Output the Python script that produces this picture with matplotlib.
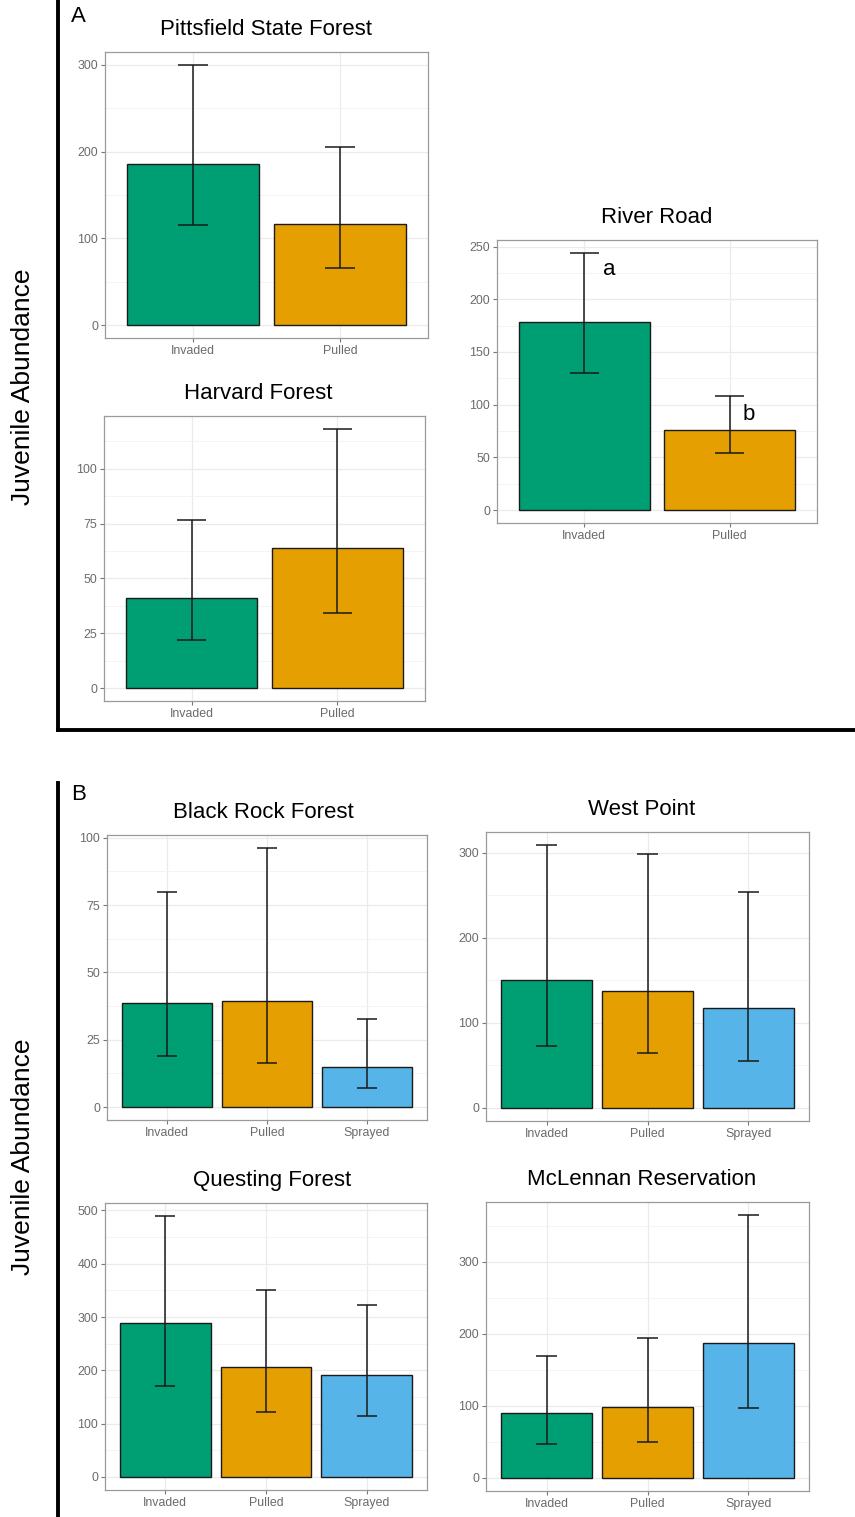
import matplotlib
matplotlib.use("Agg")
import matplotlib.pyplot as plt
from matplotlib.ticker import MultipleLocator
from matplotlib.lines import Line2D

plt.rcParams['font.family'] = ['Liberation Sans', 'DejaVu Sans']

# Treatment colours (Okabe-Ito)
COLORS = {"Invaded": "#009E73", "Pulled": "#E69F00", "Sprayed": "#56B4E9"}

# ---- data: mean, lower and upper error bar ----
two_groups = ["Invaded", "Pulled"]
three_groups = ["Invaded", "Pulled", "Sprayed"]

pittsfield_mean = [186, 116]
pittsfield_lo = [115, 66]
pittsfield_hi = [300, 205]

riverroad_mean = [178, 76]
riverroad_lo = [130, 54]
riverroad_hi = [244, 108]
riverroad_letters = ["a", "b"]

harvard_mean = [41, 63.7]
harvard_lo = [21.8, 34.3]
harvard_hi = [76.8, 118.2]

blackrock_mean = [38.7, 39.2, 14.9]
blackrock_lo = [18.8, 16.3, 7.0]
blackrock_hi = [80, 96.2, 32.6]

westpoint_mean = [150.5, 138, 118]
westpoint_lo = [73, 64, 55.5]
westpoint_hi = [309, 299, 254]

questing_mean = [288.5, 206.5, 191]
questing_lo = [170, 122.5, 113.5]
questing_hi = [489.5, 350.5, 323]

mclennan_mean = [89.5, 98.5, 187.5]
mclennan_lo = [47.5, 50, 96.5]
mclennan_hi = [169.5, 194.5, 365]

W, H = 855, 1517
fig = plt.figure(figsize=(W / 100, H / 100), dpi=100)


def add_axes_px(x0, y0, x1, y1):
    """ axes from pixel box (top-left origin) """
    return fig.add_axes([x0 / W, 1 - y1 / H, (x1 - x0) / W, (y1 - y0) / H])


def bar_panel(ax, title, groups, mean, lo, hi, step, title_dx=0):
    x = list(range(1, len(groups) + 1))
    ax.bar(x, mean, width=0.9, color=[COLORS[g] for g in groups],
           edgecolor="#1a1a1a", linewidth=1.0, zorder=3)
    yerr = [[m - l for m, l in zip(mean, lo)], [h - m for m, h in zip(mean, hi)]]
    ax.errorbar(x, mean, yerr=yerr, fmt="none", ecolor="#1a1a1a",
                elinewidth=1.1, capsize=0, zorder=4)
    # ggplot style caps of width 0.2
    ax.hlines(lo, [i - 0.1 for i in x], [i + 0.1 for i in x], color="#1a1a1a", lw=1.1, zorder=4)
    ax.hlines(hi, [i - 0.1 for i in x], [i + 0.1 for i in x], color="#1a1a1a", lw=1.1, zorder=4)

    top = max(hi)
    ax.set_ylim(-0.05 * top, 1.05 * top)
    ax.set_xlim(0.4, len(groups) + 0.6)
    ax.set_xticks(x)
    ax.set_xticklabels(groups)
    ax.yaxis.set_major_locator(MultipleLocator(step))
    ax.yaxis.set_minor_locator(MultipleLocator(step / 2))
    ax.grid(True, which="major", color="#ebebeb", lw=0.9, zorder=0)
    ax.grid(True, which="minor", axis="y", color="#f3f3f3", lw=0.6, zorder=0)
    ax.set_axisbelow(True)
    ax.tick_params(axis="both", which="major", length=3, width=0.8, color="#777777",
                   labelcolor="#6b6b6b", labelsize=8.9, pad=2)
    ax.tick_params(axis="y", which="minor", length=0)
    for s in ax.spines.values():
        s.set_color("#9a9a9a")
        s.set_linewidth(0.9)
    # title_dx: shift of the title centre in pixels
    width_px = ax.get_position().width * W
    ax.set_title(title, fontsize=16, pad=12, color="black", x=0.5 + title_dx / width_px)


ax = add_axes_px(105, 52, 428, 338)
bar_panel(ax, "Pittsfield State Forest", two_groups, pittsfield_mean, pittsfield_lo, pittsfield_hi, 100)

ax = add_axes_px(497, 240, 817, 523)
bar_panel(ax, "River Road", two_groups, riverroad_mean, riverroad_lo, riverroad_hi, 50)
ax.text(1.13, 228, riverroad_letters[0], fontsize=16, ha="left", va="center", zorder=5)
ax.text(2.09, 91, riverroad_letters[1], fontsize=16, ha="left", va="center", zorder=5)

ax = add_axes_px(104, 416, 425, 701)
bar_panel(ax, "Harvard Forest", two_groups, harvard_mean, harvard_lo, harvard_hi, 25, title_dx=-6)

ax = add_axes_px(107, 835, 427, 1120)
bar_panel(ax, "Black Rock Forest", three_groups, blackrock_mean, blackrock_lo, blackrock_hi, 25, title_dx=-4)

ax = add_axes_px(486, 832, 809, 1121)
bar_panel(ax, "West Point", three_groups, westpoint_mean, westpoint_lo, westpoint_hi, 100, title_dx=-6)

ax = add_axes_px(105, 1203, 427, 1490)
bar_panel(ax, "Questing Forest", three_groups, questing_mean, questing_lo, questing_hi, 100, title_dx=6)

ax = add_axes_px(486, 1202, 809, 1491)
bar_panel(ax, "McLennan Reservation", three_groups, mclennan_mean, mclennan_lo, mclennan_hi, 100, title_dx=-6)

# Panel frames: left bar for A and B, rule under A
lw = 2.8
fig.add_artist(Line2D([58 / W, 58 / W], [1, 1 - 730 / H], color="black", lw=lw, transform=fig.transFigure))
fig.add_artist(Line2D([58 / W, 1], [1 - 730 / H, 1 - 730 / H], color="black", lw=lw, transform=fig.transFigure))
fig.add_artist(Line2D([58 / W, 58 / W], [1 - 783 / H, 0], color="black", lw=lw, transform=fig.transFigure))

fig.text(71 / W, 1 - 17 / H, "A", fontsize=16, ha="left", va="center")
fig.text(71 / W, 1 - 795 / H, "B", fontsize=16, ha="left", va="center")

fig.text(23 / W, 1 - 387 / H, "Juvenile Abundance", fontsize=19, rotation=90, ha="center", va="center")
fig.text(23 / W, 1 - 1157 / H, "Juvenile Abundance", fontsize=19, rotation=90, ha="center", va="center")

fig.savefig("out.png", dpi=100, facecolor="white")
